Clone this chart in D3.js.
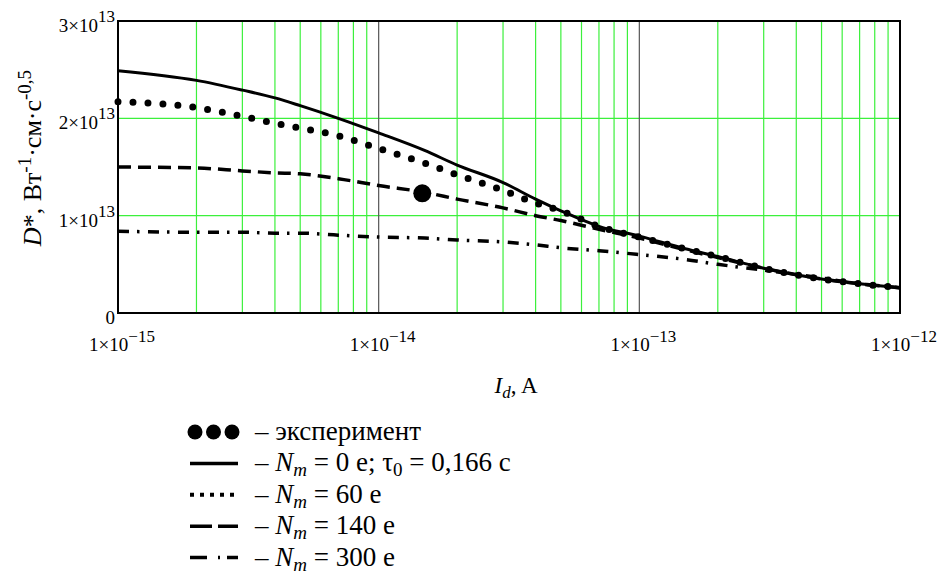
<!DOCTYPE html>
<html>
<head>
<meta charset="utf-8">
<script src="https://cdn.jsdelivr.net/npm/d3@7"></script>
<style>
  body { margin: 0; background: #fff; }
  svg text { font-family: "Liberation Serif", "Times New Roman", "DejaVu Serif", serif; fill: #000; }
</style>
</head>
<body>
<div id="chart"></div>
<script>
// dark current, A
const currents = [1e-15, 2e-15, 3e-15, 4e-15, 5e-15, 7e-15, 1e-14, 1.5e-14, 2e-14, 3e-14,
                  4e-14, 5e-14, 7e-14, 1e-13, 1.5e-13, 2e-13, 3e-13, 5e-13, 7e-13, 1e-12];
// D*, units of 1e13
const dNm0   = [2.49, 2.39, 2.29, 2.21, 2.13, 2.00, 1.85, 1.67, 1.52, 1.34,
                1.17, 1.05, 0.89, 0.79, 0.66, 0.58, 0.46, 0.35, 0.30, 0.26];
const dNm60  = [2.17, 2.11, 2.02, 1.95, 1.90, 1.82, 1.69, 1.54, 1.42, 1.26,
                1.13, 1.05, 0.89, 0.78, 0.66, 0.58, 0.46, 0.35, 0.30, 0.26];
const dNm140 = [1.50, 1.49, 1.46, 1.44, 1.43, 1.38, 1.31, 1.24, 1.17, 1.08,
                1.00, 0.95, 0.86, 0.77, 0.65, 0.57, 0.46, 0.35, 0.30, 0.26];
const dNm300 = [0.84, 0.83, 0.83, 0.82, 0.82, 0.80, 0.78, 0.77, 0.75, 0.73,
                0.70, 0.67, 0.64, 0.60, 0.55, 0.50, 0.44, 0.36, 0.30, 0.26];
const experiment = [[1.47e-14, 1.23]];

const xTickExp = [-15, -14, -13, -12];
const yTicks = [0, 1, 2, 3];

const serif = "'Liberation Serif', 'Times New Roman', 'DejaVu Serif', serif";

const margin = { top: 21, left: 118 },
      width = 782,
      height = 292;

const svg = d3.select("#chart").append("svg")
    .attr("width", 940)
    .attr("height", 576)
    .attr("font-family", serif);

const g = svg.append("g").attr("transform", `translate(${margin.left},${margin.top})`);

const x = d3.scaleLog().domain([1e-15, 1e-12]).range([0, width]);
const y = d3.scaleLinear().domain([0, 3]).range([height, 0]);

// grid
const minor = [];
xTickExp.slice(0, 3).forEach(e => { for (let k = 2; k <= 9; k++) minor.push(k * Math.pow(10, e)); });
g.selectAll(".gx").data(minor).join("line")
    .attr("x1", d => x(d)).attr("x2", d => x(d))
    .attr("y1", 0).attr("y2", height)
    .attr("stroke", "#3cf03c").attr("stroke-width", 1.2);
g.selectAll(".gy").data([1, 2]).join("line")
    .attr("x1", 0).attr("x2", width)
    .attr("y1", d => y(d)).attr("y2", d => y(d))
    .attr("stroke", "#3cf03c").attr("stroke-width", 1.2);
g.selectAll(".gmaj").data([1e-14, 1e-13]).join("line")
    .attr("x1", d => x(d)).attr("x2", d => x(d))
    .attr("y1", 0).attr("y2", height)
    .attr("stroke", "#555").attr("stroke-width", 1.2);

// curves
const line = d3.line().x(d => x(d[0])).y(d => y(d[1])).curve(d3.curveMonotoneX);
const series = [
  { v: dNm0,   dash: null,            w: 3,   cap: "butt" },
  { v: dNm60,  dash: "0 15",          w: 7,   cap: "round" },
  { v: dNm140, dash: "13 7",          w: 3.5, cap: "butt" },
  { v: dNm300, dash: "11 8 2.5 8.5",  w: 3.5, cap: "butt" }
];
series.forEach(s => {
  g.append("path")
    .datum(currents.map((c, i) => [c, s.v[i]]))
    .attr("fill", "none")
    .attr("stroke", "#000")
    .attr("stroke-width", s.w)
    .attr("stroke-linecap", s.cap)
    .attr("stroke-dasharray", s.dash)
    .attr("d", line);
});

g.selectAll(".exp").data(experiment).join("circle")
    .attr("cx", d => x(d[0])).attr("cy", d => y(d[1]))
    .attr("r", 9).attr("fill", "#000");

// frame
g.append("rect").attr("width", width).attr("height", height)
    .attr("fill", "none").attr("stroke", "#000").attr("stroke-width", 2);

// tick labels
xTickExp.forEach(e => {
  const t = g.append("text")
    .attr("x", x(Math.pow(10, e)) + 4)
    .attr("y", height + 38)
    .attr("text-anchor", "middle")
    .attr("font-family", serif)
    .style("font-size", "19px");
  t.append("tspan").text("1×10");
  t.append("tspan").attr("dy", -9).style("font-size", "17px").text("−" + Math.abs(e));
});
yTicks.forEach(v => {
  const t = g.append("text")
    .attr("x", -3)
    .attr("y", y(v) + 11)
    .attr("text-anchor", "end")
    .attr("font-family", serif)
    .style("font-size", "19px");
  if (v === 0) { t.text("0"); return; }
  t.append("tspan").text(v + "×10");
  t.append("tspan").attr("dy", -10).style("font-size", "17px").text("13");
});

// axis titles
const yt = svg.append("text")
    .attr("transform", "translate(41,158) rotate(-90)")
    .attr("text-anchor", "middle")
    .attr("font-family", serif)
    .style("font-size", "26px");
yt.append("tspan").style("font-style", "italic").text("D");
yt.append("tspan").text("*, Вт");
yt.append("tspan").attr("dy", -10).style("font-size", "19px").text("-1");
yt.append("tspan").attr("dy", 10).text("·см·с");
yt.append("tspan").attr("dy", -10).style("font-size", "19px").text("-0,5");

const xt = svg.append("text")
    .attr("x", 516).attr("y", 393)
    .attr("text-anchor", "middle")
    .attr("font-family", serif)
    .style("font-size", "23px");
xt.append("tspan").style("font-style", "italic").text("I");
xt.append("tspan").attr("dy", 5).style("font-style", "italic").style("font-size", "17px").text("d");
xt.append("tspan").attr("dy", -5).text(", A");

// legend
const legendLabels = [
  [["– эксперимент", null]],
  [["– ", null], ["N", "i"], ["m", "sub"], [" = 0 е; τ", null], ["0", "sub0"], [" = 0,166 с", null]],
  [["– ", null], ["N", "i"], ["m", "sub"], [" = 60 е", null]],
  [["– ", null], ["N", "i"], ["m", "sub"], [" = 140 е", null]],
  [["– ", null], ["N", "i"], ["m", "sub"], [" = 300 е", null]]
];
const legendDash = [null, null, "4 6", "22 6", "17 11 2 7 11"];
const rowY = i => 432 + i * 31.4;

legendLabels.forEach((parts, i) => {
  const cy = rowY(i);
  if (i === 0) {
    svg.selectAll(".ldot").data([195, 213.5, 232]).join("circle")
      .attr("cx", d => d).attr("cy", cy).attr("r", 7.5).attr("fill", "#000");
  } else {
    svg.append("line")
      .attr("x1", 190).attr("x2", 238)
      .attr("y1", cy).attr("y2", cy)
      .attr("stroke", "#000")
      .attr("stroke-width", i === 2 ? 4 : 3.5)
      .attr("stroke-dasharray", legendDash[i]);
  }
  const t = svg.append("text").attr("x", 255).attr("y", cy + 8)
    .attr("font-family", serif)
    .style("font-size", "27px");
  let shifted = 0;
  parts.forEach(([s, kind]) => {
    const sp = t.append("tspan").text(s);
    if (kind === "i") sp.style("font-style", "italic");
    if (kind === "sub" || kind === "sub0") {
      sp.attr("dy", 5 - shifted).style("font-size", "19px");
      if (kind === "sub") sp.style("font-style", "italic");
      shifted = 5;
    } else if (shifted) {
      sp.attr("dy", -shifted);
      shifted = 0;
    }
  });
});
</script>
</body>
</html>
